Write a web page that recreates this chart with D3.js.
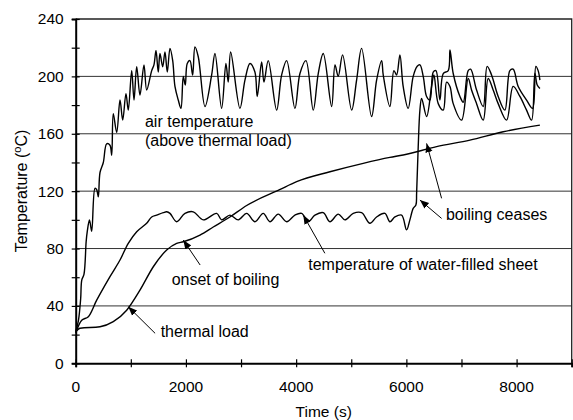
<!DOCTYPE html>
<html lang="en">
<head>
  <meta charset="UTF-8">
  <title>temperature chart</title>
  <script src="https://d3js.org/d3.v7.min.js"></script>
  <style>
    body { margin: 0; background: #fff; }
    text { font-family: "Liberation Sans", Arial, sans-serif; fill: #000; }
  </style>
</head>
<body>
  <div class="chart"></div>
  <script>
    // air temperature above the thermal load [time s, temp C]
    const airTemp = [
      [0, 22], [50, 30], [90, 45], [110, 58], [150, 62], [190, 85], [210, 92], [250, 100],
      [290, 92], [350, 122], [381, 121], [410, 116], [441, 133], [501, 140], [562, 153],
      [622, 152], [653, 145], [682, 174], [744, 161], [804, 183.5], [853, 169.5], [912, 188],
      [954, 176.5], [1016, 204], [1058, 183.5], [1107, 206.7], [1166, 187], [1239, 208],
      [1288, 190.5], [1379, 204], [1420, 208], [1457, 218], [1498, 203], [1529, 216],
      [1578, 206.7], [1620, 217], [1662, 203], [1711, 219.5], [1760, 211], [1801, 193],
      [1861, 183.5], [1910, 177.7], [1952, 200], [1988, 194], [2024, 209], [2073, 211],
      [2122, 200.9], [2164, 220.5], [2224, 213.7], [2346, 179], [2467, 201], [2527, 216],
      [2648, 177.7], [2726, 209], [2768, 196], [2812, 217], [2980, 177.7], [3071, 197.4],
      [3162, 209], [3252, 203], [3294, 186], [3374, 210], [3416, 196], [3494, 211],
      [3646, 176.5], [3737, 201], [3828, 211], [3978, 177.7], [4069, 202], [4178, 211],
      [4310, 176.5], [4401, 202], [4492, 216], [4644, 179], [4705, 208], [4764, 200],
      [4843, 215], [5007, 176.5], [5097, 197.4], [5188, 219.5], [5369, 172], [5460, 197.4],
      [5551, 211], [5580, 201], [5701, 179], [5774, 204], [5823, 201], [5883, 215],
      [5942, 193], [6033, 177.7], [6124, 200], [6197, 207], [6246, 208], [6306, 200],
      [6367, 186], [6427, 183.5], [6487, 203], [6536, 204], [6609, 183.5], [6669, 202],
      [6760, 204], [6791, 218.5], [6850, 202], [6972, 186], [7032, 182], [7122, 204],
      [7166, 205], [7274, 190.5], [7394, 179], [7466, 207], [7546, 201], [7666, 186],
      [7787, 176.5], [7878, 204], [7938, 205], [8029, 193], [8181, 183.5], [8290, 177.7],
      [8350, 207], [8391, 204], [8423, 197.4]
    ];

    // temperature of the water-filled sheet
    const waterTemp = [
      [0, 21], [109, 30], [229, 32.5], [381, 44], [622, 60.4], [804, 72], [954, 83.6],
      [1107, 91.7], [1288, 97.6], [1379, 102], [1469, 103.3], [1589, 105], [1651, 105.6],
      [1711, 104.5], [1832, 98.7], [1983, 104.5], [2133, 105.6], [2315, 100], [2558, 104.5],
      [2648, 100], [2799, 103.3], [2950, 100], [3102, 104.5], [3253, 98.7], [3403, 104.5],
      [3525, 98.7], [3675, 104], [3828, 98.7], [3978, 103.3], [4100, 104.5], [4219, 98.7],
      [4341, 103.3], [4492, 105], [4613, 98.7], [4764, 104], [4885, 100], [5036, 104.5],
      [5188, 105], [5339, 97.6], [5460, 102], [5611, 104.5], [5701, 98.7], [5792, 102],
      [5914, 103.3], [6004, 93], [6064, 100], [6124, 108], [6173, 110.3], [6186, 118.5],
      [6215, 151], [6246, 176.6], [6277, 184.7], [6367, 172], [6458, 193], [6500, 201],
      [6578, 181], [6669, 176.5], [6730, 196], [6791, 193], [6850, 181], [7002, 169.5],
      [7122, 198.5], [7183, 190.5], [7274, 181], [7394, 169.5], [7485, 198.5], [7575, 190.5],
      [7666, 181], [7818, 169.5], [7938, 193], [8060, 186], [8181, 176.5], [8272, 169.5],
      [8332, 202], [8374, 194], [8423, 191.6]
    ];

    // thermal load temperature
    const loadTemp = [
      [0, 22], [78, 24.4], [441, 25.5], [682, 29], [925, 37], [1166, 51], [1408, 67.3],
      [1651, 79], [1832, 83.6], [1952, 84.7], [2255, 89.4], [2496, 95], [2799, 102],
      [3102, 110], [3700, 121], [4009, 126.6], [4613, 133.5], [5217, 139.4], [5701, 143.5],
      [5942, 145.2], [6549, 151], [7153, 155.6], [7757, 161.4], [8423, 166]
    ];

    const xTicks = [0, 2000, 4000, 6000, 8000];
    const xMinor = d3.range(0, 9001, 1000);
    const yTicks = [0, 40, 80, 120, 160, 200, 240];
    const yMinor = d3.range(0, 241, 20);
    const gridLines = [40, 80, 120, 160, 200];

    // labels, anchored in data units
    const labels = [
      { t: 1257, v: 164.7, text: 'air temperature' },
      { t: 1257, v: 151.2, text: '(above thermal load)' },
      { t: 1741, v: 54.6, text: 'onset of boiling' },
      { t: 1542, v: 18.5, text: 'thermal load' },
      { t: 4219, v: 65, text: 'temperature of water-filled sheet' },
      { t: 6717, v: 99.9, text: 'boiling ceases' }
    ];
    // arrows: tail -> head
    const arrows = [
      [[2258, 68.5], [1952, 85.9]],
      [[1441, 20.9], [954, 39.4]],
      [[4521, 76.7], [4129, 103.3]],
      [[6639, 101], [6246, 113.8]],
      [[6639, 115], [6367, 153.3]]
    ];

    const W = 573, H = 420;
    const svg = d3.select('.chart').append('svg').attr('width', W).attr('height', H);

    const x = d3.scaleLinear().domain([0, 9000]).range([75.7, 571.7]);
    const y = d3.scaleLinear().domain([0, 240]).range([363.3, 19]);

    svg.append('defs').append('marker')
      .attr('id', 'head')
      .attr('viewBox', '0 0 10 10')
      .attr('refX', 10).attr('refY', 5)
      .attr('markerWidth', 9).attr('markerHeight', 9)
      .attr('markerUnits', 'userSpaceOnUse')
      .attr('orient', 'auto')
      .append('path').attr('d', 'M0,1 L10,5 L0,9 Z').attr('fill', '#000');

    // grid
    svg.append('g').selectAll('line')
      .data(gridLines)
      .enter().append('line')
      .attr('x1', x(0)).attr('x2', x(9000))
      .attr('y1', d => y(d)).attr('y2', d => y(d))
      .attr('stroke', '#333').attr('stroke-width', 1);

    // frame top + right
    svg.append('path')
      .attr('d', `M${x(0)},${y(240)}H${x(9000)}V${y(0)}`)
      .attr('fill', 'none').attr('stroke', '#222').attr('stroke-width', 1.3);

    // axes
    const yAxis = svg.append('g').attr('transform', `translate(${x(0)},0)`)
      .call(d3.axisLeft(y).tickValues(yMinor).tickSize(4).tickFormat(''));
    yAxis.selectAll('.tick line').attr('x2', 4).attr('x1', -4).attr('stroke-width', 1.2);
    yAxis.select('.domain').attr('stroke-width', 2);

    const xAxis = svg.append('g').attr('transform', `translate(0,${y(0)})`)
      .call(d3.axisBottom(x).tickValues(xMinor).tickSize(4).tickFormat(''));
    xAxis.selectAll('.tick line').attr('y1', -4).attr('y2', 4).attr('stroke-width', 1.2);
    xAxis.select('.domain').attr('stroke-width', 2);

    svg.append('g').selectAll('text')
      .data(yTicks)
      .enter().append('text')
      .attr('x', x(0) - 12).attr('y', d => y(d))
      .attr('dy', '0.35em').attr('text-anchor', 'end')
      .style('font-size', '15.5px')
      .text(d => d);

    svg.append('g').selectAll('text')
      .data(xTicks)
      .enter().append('text')
      .attr('x', d => x(d)).attr('y', y(0) + 29)
      .attr('text-anchor', 'middle')
      .style('font-size', '15.5px')
      .text(d => d);

    svg.append('text')
      .attr('x', (x(0) + x(9000)) / 2).attr('y', 417)
      .attr('text-anchor', 'middle')
      .style('font-size', '15.5px')
      .text('Time (s)');

    const yt = svg.append('text')
      .attr('transform', 'translate(27,191) rotate(-90)')
      .attr('text-anchor', 'middle')
      .style('font-size', '16px');
    yt.append('tspan').text('Temperature (');
    yt.append('tspan').attr('dy', -6).style('font-size', '11px').text('o');
    yt.append('tspan').attr('dy', 6).text('C)');

    // series
    const line = d3.line().x(d => x(d[0])).y(d => y(d[1])).curve(d3.curveCatmullRom.alpha(0.5));
    const smooth = d3.line().x(d => x(d[0])).y(d => y(d[1])).curve(d3.curveMonotoneX);

    [airTemp, waterTemp].forEach(s => {
      svg.append('path').datum(s)
        .attr('d', line)
        .attr('fill', 'none').attr('stroke', '#000').attr('stroke-width', 1.4)
        .attr('stroke-linejoin', 'round');
    });
    svg.append('path').datum(loadTemp)
      .attr('d', smooth)
      .attr('fill', 'none').attr('stroke', '#000').attr('stroke-width', 1.4);

    // annotations
    svg.append('g').selectAll('line')
      .data(arrows)
      .enter().append('line')
      .attr('x1', d => x(d[0][0])).attr('y1', d => y(d[0][1]))
      .attr('x2', d => x(d[1][0])).attr('y2', d => y(d[1][1]))
      .attr('stroke', '#000').attr('stroke-width', 1)
      .attr('marker-end', 'url(#head)');

    svg.append('g').selectAll('text')
      .data(labels)
      .enter().append('text')
      .attr('x', d => x(d.t)).attr('y', d => y(d.v))
      .style('font-size', '16px')
      .text(d => d.text);
  </script>
</body>
</html>
